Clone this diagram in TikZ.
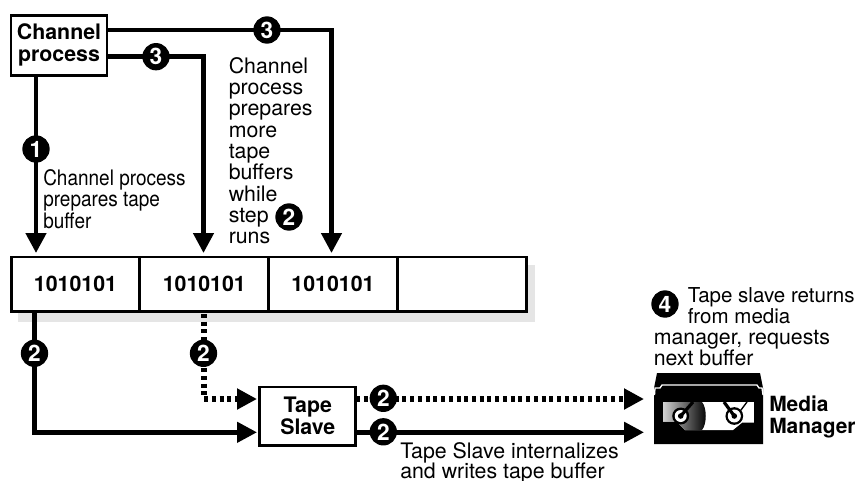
\documentclass[tikz,border=0pt]{standalone}
\usepackage{fontspec}
\setmainfont{TeX Gyre Heros}
\newfontfamily\condfont[FakeStretch=0.89]{TeX Gyre Heros}
\usetikzlibrary{arrows.meta,positioning}
\tikzset{
  conn/.style={line width=3.4pt,-{Triangle[length=15pt,width=15pt]}},
  dotconn/.style={conn,line width=3.8pt,dash pattern=on 3pt off 2.8pt},
  badge/.style={circle,fill=black,text=white,inner sep=0pt,minimum size=20.5pt,font=\fontsize{17}{17}\selectfont\bfseries},
  boxed/.style={draw=black,line width=2.2pt,fill=white,align=center,inner sep=0pt,font=\fontsize{16}{16.5}\selectfont\bfseries},
  cell/.style={draw=black,line width=2.2pt,fill=white,minimum width=96.6pt,minimum height=41pt,inner sep=0pt,font=\fontsize{16}{16}\selectfont\bfseries},
  note/.style={align=left,anchor=north west,inner sep=0pt,font=\fontsize{16}{16}\selectfont},
}
\begin{document}
\begin{tikzpicture}[x=0.75pt,y=-0.75pt]
\useasboundingbox (0,0) rectangle (857,480);
\fill[black!10] (18,265) rectangle (535,322);
% boxes
\node[boxed,minimum width=72pt,minimum height=44.6pt] (chan) at (59,45.4) {Channel\\process};
\node[cell] (c1) at (75.5,284.3) {1010101\hspace{4pt}};
\node[cell] (c2) at (204.3,284.3) {1010101\hspace{4pt}};
\node[cell] (c3) at (333,284.3) {1010101\hspace{4pt}};
\node[cell] (c4) at (461.9,284.3) {};
\node[boxed,minimum width=72pt,minimum height=44pt] (slave) at (307.8,416.3) {Tape\\Slave};
% free ends
\coordinate (a1) at (36,253);
\coordinate (a2) at (203.5,253);
\coordinate (a3) at (331.5,253);
\coordinate (t1) at (107,30);
\coordinate (t2) at (107,56.7);
\coordinate (s1) at (36,75);
\coordinate (d1) at (34.7,312);
\coordinate (d2) at (204,314);
\coordinate (i1) at (257,399);
\coordinate (i2) at (257,432.3);
\coordinate (o1s) at (356,399);
\coordinate (o2s) at (356,432.3);
\coordinate (o1) at (644,399);
\coordinate (o2) at (644,432.3);
% connectors
\draw[conn] (s1) -- (a1);
\draw[conn] (t2) -| (a2);
\draw[conn] (t1) -| (a3);
\draw[conn] (d1) |- (i2);
\draw[dotconn] (d2) |- (i1);
\draw[dotconn] (o1s) -- (o1);
\draw[conn] (o2s) -- (o2);
% badges
\node[badge] (b1) at (36,149) {1};
\node[badge] (b3a) at (156,56.7) {3};
\node[badge] (b3b) at (267,30) {3};
\node[badge] (b2a) at (34.5,353.3) {2};
\node[badge] (b2b) at (203.5,353.3) {2};
\node[badge] (b2c) at (383.3,398.3) {2};
\node[badge] (b2d) at (383.3,431.8) {2};
\node[badge] (b2e) at (289,217) {2};
\node[badge] (b4) at (665,304) {4};
% notes
\node[note,font=\fontsize{16}{16.2}\condfont] (n1) at (43,169) {Channel process\\prepares tape\\buffer};
\node[note] (n2) at (228.5,57) {Channel\\process\\prepares\\more\\tape\\buffers\\while\\step\\runs};
\node[note,font=\fontsize{16}{15.3}\selectfont] (n3) at (400,442) {Tape Slave internalizes\\and writes tape buffer};
\node[note,font=\fontsize{15.4}{16}\selectfont] (n4a) at (687.5,287) {Tape slave returns\\from media};
\node[note] (n4c) at (653.5,330) {manager, requests\\next buffer};
\node[note,font=\fontsize{15.7}{16.3}\selectfont\bfseries] (mm) at (769,396) {Media\\Manager};
% tape icon
\fill[black] (654,395) -- (654,388) -- (657,373) -- (760,373) -- (763,388) -- (763,444) -- (654,444) -- cycle;
\draw[white,line width=1pt] (654.5,395) -- (655,388) -- (660,388) -- (662,385) -- (757,385) -- (759,388) -- (762,388) -- (763,395);
\begin{scope}
\clip (663,402) -- (754,402) -- (754,422.7) -- (742,422.7) -- (733,430) -- (685,430) -- (677,421.7) -- (663,421.7) -- cycle;
\fill[white] (663,402) rectangle (754,431);
\shade[left color=black!18,right color=black] (663,402) -- (702,402) .. controls (707,408) and (707,424) .. (702,430) -- (663,430) -- cycle;
\end{scope}
\draw[black,line width=1pt] (747,402) -- (738,414);
\fill[black] (680.7,416) circle (8.5);
\fill[white] (680.7,416) circle (6);
\fill[black] (680.7,416) circle (2.8);
\draw[black,line width=2pt] (734.3,416) circle (7.5);
\fill[white] (734.3,416) circle (6.5);
\fill[black] (734.3,416) circle (2.8);
\draw[black,line width=2.4pt] (680.7,416) -- (693,402);
\draw[black,line width=2.4pt] (734.3,416) -- (724,402);
\end{tikzpicture}
\end{document}
